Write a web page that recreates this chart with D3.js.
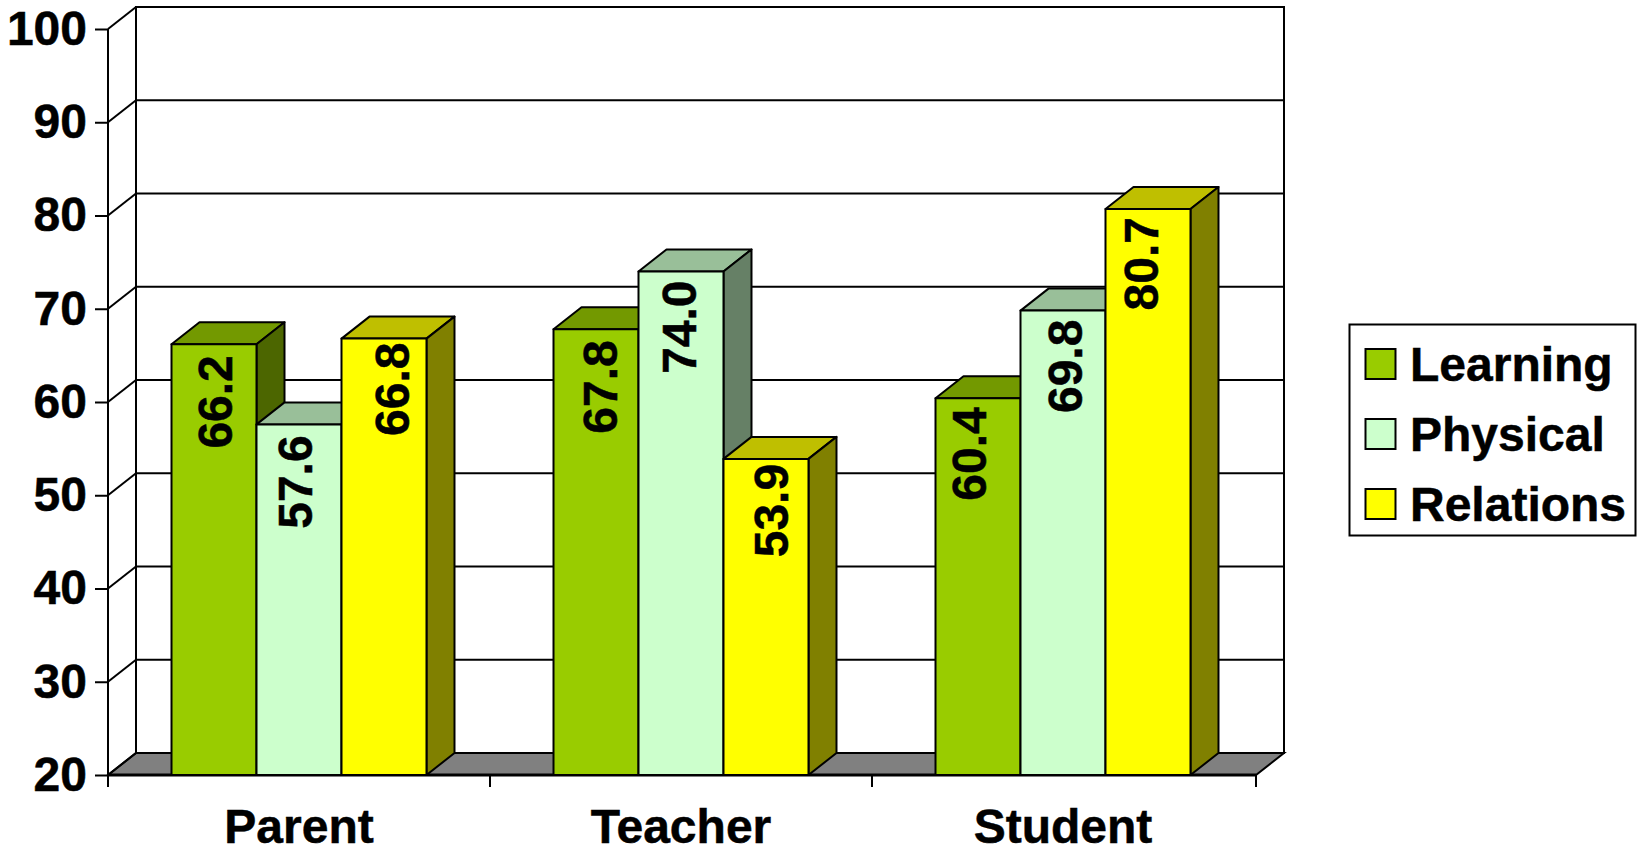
<!DOCTYPE html>
<html><head><meta charset="utf-8">
<script src="https://cdn.jsdelivr.net/npm/d3@7"></script>
<style>html,body{margin:0;padding:0;background:#fff}svg{display:block}text{font-family:"Liberation Sans",Arial,sans-serif;font-weight:bold;fill:#000;stroke:#000;stroke-width:.5px}</style>
</head><body><svg id="c" width="1640" height="849"></svg>
<script>
const categories=["Parent","Teacher","Student"];
const seriesNames=["Learning","Physical","Relations"];
const learning=[66.2,67.8,60.4];
const physical=[57.6,74.0,69.8];
const relations=[66.8,53.9,80.7];
const seriesValues=[learning,physical,relations];
const yTicks=[20,30,40,50,60,70,80,90,100];
const frontColors=["#99CC00","#CCFFCC","#FFFF00"];
const topColors=["#739900","#99BF99","#BFBF00"];
const sideColors=["#4C6600","#668066","#808000"];
// hand placement of the value labels: [across, down] from the bar centre/top
const labelNudge=[
  [[18,13],[21,13],[8,11]],
  [[13,13],[15,11],[19,11]],
  [[25,6],[22,7],[10,10]]
];

const svg=d3.select("#c");
const x0=108,x1=1256,xBars=1254,dx=28,dy=-22;
const y=d3.scaleLinear().domain([20,100]).range([775,29]);
const xCat=d3.scaleBand().domain(categories).range([x0,xBars]).paddingInner(0.3325).paddingOuter(0.16625);
const xBar=d3.scaleBand().domain(d3.range(3)).range([0,xCat.bandwidth()]);
const line="#000",sw=2,fs=48;

// walls
const wall=svg.append("g").attr("fill","none").attr("stroke",line).attr("stroke-width",sw);
wall.append("polygon").attr("points",[[x0,y(20)],[x0+dx,y(20)+dy],[x1+dx,y(20)+dy],[x1,y(20)]].join(" ")).attr("fill","#808080");
wall.append("rect").attr("x",x0+dx).attr("y",y(100)+dy).attr("width",x1-x0).attr("height",y(20)-y(100));
wall.append("line").attr("x1",x0).attr("x2",x0).attr("y1",y(100)).attr("y2",y(20));
yTicks.forEach(t=>{
  wall.append("line").attr("x1",x0).attr("y1",y(t)).attr("x2",x0+dx).attr("y2",y(t)+dy);
  if(t>20&&t<100) wall.append("line").attr("x1",x0+dx).attr("y1",y(t)+dy).attr("x2",x1+dx).attr("y2",y(t)+dy);
});

// axes
const yAxis=d3.axisLeft(y).tickValues(yTicks).tickSize(13).tickPadding(8);
const gy=svg.append("g").attr("transform",`translate(${x0},0)`).call(yAxis);
gy.select(".domain").remove();
gy.selectAll("line").attr("stroke",line).attr("stroke-width",sw);
gy.selectAll("text").attr("font-size",fs).attr("font-family",'"Liberation Sans"').attr("font-weight","bold").attr("fill","#000");
const gx=svg.append("g").attr("transform",`translate(0,${y(20)})`);
gx.append("line").attr("x1",x0).attr("x2",x1).attr("stroke",line).attr("stroke-width",sw+1);
const tickXs=[x0,xCat.step()+x0,2*xCat.step()+x0,x1];
tickXs.forEach(p=>gx.append("line").attr("x1",p).attr("x2",p).attr("y1",0).attr("y2",12).attr("stroke",line).attr("stroke-width",sw));
categories.forEach(c=>gx.append("text").attr("x",xCat(c)+xCat.bandwidth()/2).attr("y",68).attr("text-anchor","middle").attr("font-size",fs).text(c));

// bars
categories.forEach((c,ci)=>{
  seriesValues.forEach((vals,si)=>{
    const v=vals[ci],l=xCat(c)+xBar(si),w=xBar.bandwidth(),t=y(v),b=y(20);
    const g=svg.append("g").attr("stroke",line).attr("stroke-width",sw).attr("stroke-linejoin","round");
    g.append("polygon").attr("points",[[l,t],[l+dx,t+dy],[l+w+dx,t+dy],[l+w,t]].join(" ")).attr("fill",topColors[si]);
    g.append("polygon").attr("points",[[l+w,t],[l+w+dx,t+dy],[l+w+dx,b+dy],[l+w,b]].join(" ")).attr("fill",sideColors[si]);
    g.append("rect").attr("x",l).attr("y",t).attr("width",w).attr("height",b-t).attr("fill",frontColors[si]);
  });
});
categories.forEach((c,ci)=>{
  seriesValues.forEach((vals,si)=>{
    const v=vals[ci],l=xCat(c)+xBar(si),w=xBar.bandwidth(),t=y(v),n=labelNudge[si][ci];
    svg.append("text").attr("transform",`translate(${l+w/2+n[0]},${t+n[1]-2}) rotate(-90)`)
      .attr("text-anchor","end").attr("font-size",fs).text(v.toFixed(1));
  });
});

// legend
const lg=svg.append("g");
lg.append("rect").attr("x",1349.5).attr("y",324.5).attr("width",286).attr("height",211).attr("fill","#fff").attr("stroke",line).attr("stroke-width",sw);
const ly=d3.scalePoint().domain(seriesNames).range([364,504]);
seriesNames.forEach((n,i)=>{
  lg.append("rect").attr("x",1365.5).attr("y",ly(n)-15).attr("width",30).attr("height",30).attr("fill",frontColors[i]).attr("stroke",line).attr("stroke-width",sw);
  lg.append("text").attr("x",1410).attr("y",ly(n)+17).attr("font-size",fs).text(n);
});
</script></body></html>
